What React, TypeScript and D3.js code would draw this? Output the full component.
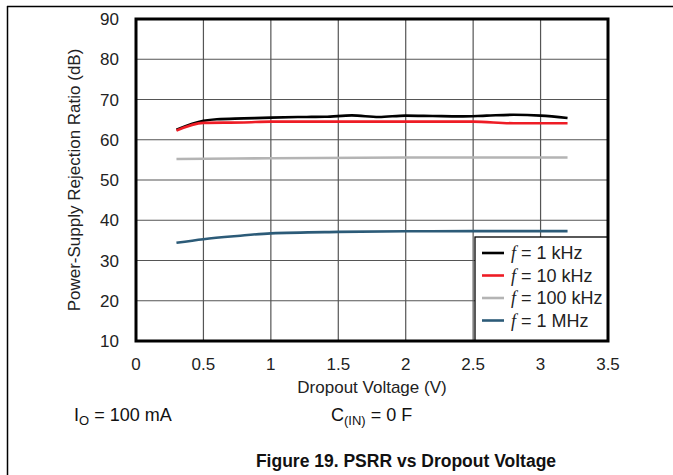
import React from "react";
import * as d3 from "d3";

const xTicks = [0, 0.5, 1, 1.5, 2, 2.5, 3, 3.5];
const yTicks = [10, 20, 30, 40, 50, 60, 70, 80, 90];

const x1k = [0.3, 0.5, 0.6, 0.8, 1.0, 1.2, 1.4, 1.6, 1.8, 2.0, 2.2, 2.4, 2.6, 2.8, 3.0, 3.2];
const y1k = [62.5, 64.7, 65.1, 65.3, 65.5, 65.65, 65.7, 66.05, 65.65, 66.0, 65.9, 65.8, 66.0, 66.2, 66.0, 65.4];

const x10k = [0.3, 0.5, 0.8, 1.0, 1.5, 2.0, 2.5, 2.8, 3.2];
const y10k = [62.3, 64.2, 64.3, 64.5, 64.5, 64.5, 64.5, 64.1, 64.1];

const x100k = [0.3, 1.0, 2.0, 3.2];
const y100k = [55.2, 55.4, 55.6, 55.6];

const x1M = [0.3, 0.5, 0.75, 1.0, 1.5, 2.0, 2.5, 3.2];
const y1M = [34.4, 35.3, 36.1, 36.75, 37.1, 37.25, 37.3, 37.3];

const seriesNames = ["1 kHz", "10 kHz", "100 kHz", "1 MHz"];
const seriesColors = ["#000000", "#ee1c25", "#b4b4b4", "#2c5b78"];
const seriesX = [x1k, x10k, x100k, x1M];
const seriesY = [y1k, y10k, y100k, y1M];

export default function App() {
  const W = 673, H = 475;
  const left = 136, right = 608, top = 19, bottom = 341;
  const x = d3.scaleLinear().domain([0, 3.5]).range([left, right]);
  const y = d3.scaleLinear().domain([10, 90]).range([bottom, top]);
  const line = d3.line<[number, number]>().x(d => x(d[0])).y(d => y(d[1])).curve(d3.curveMonotoneX);
  const font = "Arial, 'Liberation Sans', sans-serif";
  const legX = 475, legY = 237;

  return (
    <svg width={W} height={H} style={{ position: "absolute", left: 0, top: 0, background: "#fff" }} fontFamily={font}>
      <rect x={0} y={0} width={W} height={H} fill="#fff" />
      <line x1={7.5} y1={6} x2={7.5} y2={H} stroke="#000" strokeWidth={1.5} />
      <line x1={7} y1={6.5} x2={W} y2={6.5} stroke="#000" strokeWidth={1.5} />
      {xTicks.slice(1, -1).map(t => (
        <line key={"gx" + t} x1={x(t)} x2={x(t)} y1={top} y2={bottom} stroke="#555" strokeWidth={1.2} />
      ))}
      {yTicks.slice(1, -1).map(t => (
        <line key={"gy" + t} x1={left} x2={right} y1={y(t)} y2={y(t)} stroke="#555" strokeWidth={1.2} />
      ))}
      {seriesX.map((xs, i) => (
        <path key={"s" + i} d={line(xs.map((v, j) => [v, seriesY[i][j]]) as [number, number][]) || ""}
          fill="none" stroke={seriesColors[i]} strokeWidth={2.6} />
      ))}
      <rect x={legX} y={legY} width={right - legX} height={bottom - legY} fill="#fff" stroke="#000" strokeWidth={1.3} />
      {seriesNames.map((n, i) => {
        const cy = legY + 16 + i * 22.5;
        return (
          <g key={"l" + i}>
            <line x1={482} x2={504} y1={cy} y2={cy} stroke={seriesColors[i]} strokeWidth={2.6} />
            <text x={511} y={cy + 6} fontSize={18} fill="#222">
              <tspan fontFamily="'Liberation Serif', 'DejaVu Serif', serif" fontStyle="italic">f</tspan>
              <tspan dx={5}>= {n}</tspan>
            </text>
          </g>
        );
      })}
      <rect x={left} y={top} width={right - left} height={bottom - top} fill="none" stroke="#000" strokeWidth={3} />
      {yTicks.map(t => (
        <text key={"yt" + t} x={119} y={y(t) + 6} textAnchor="end" fontSize={17} fill="#222">{t}</text>
      ))}
      {xTicks.map(t => (
        <text key={"xt" + t} x={x(t)} y={370} textAnchor="middle" fontSize={17} fill="#222">{t}</text>
      ))}
      <text x={372} y={393} textAnchor="middle" fontSize={17} fill="#222">Dropout Voltage (V)</text>
      <text transform={`translate(80, 180) rotate(-90)`} textAnchor="middle" fontSize={17} fill="#222">
        Power-Supply Rejection Ratio (dB)
      </text>
      <text x={74} y={421} fontSize={18} fill="#111">
        I<tspan fontSize={13} dy={4}>O</tspan><tspan dy={-4}> = 100 mA</tspan>
      </text>
      <text x={331} y={421} fontSize={18} fill="#111">
        C<tspan fontSize={13} dy={4}>(IN)</tspan><tspan dy={-4}> = 0 F</tspan>
      </text>
      <text x={406} y={467} textAnchor="middle" fontSize={17.5} fontWeight="bold" fill="#111">
        Figure 19. PSRR vs Dropout Voltage
      </text>
    </svg>
  );
}
